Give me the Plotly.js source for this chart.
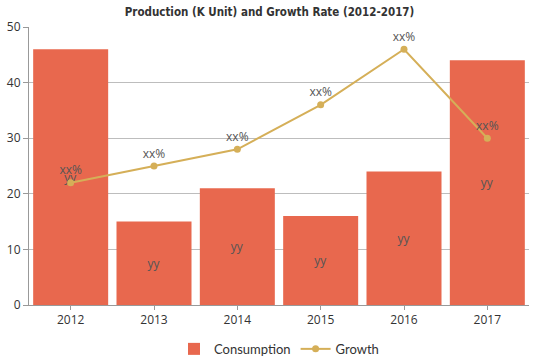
<!DOCTYPE html>
<html><head><meta charset="utf-8">
<script src="https://cdn.plot.ly/plotly-3.0.1.min.js"></script>
<style>html,body{margin:0;padding:0;background:#fff;}#chart{width:539px;height:359px;}</style>
</head><body><div id="chart"></div>
<script>
var years = ['2012','2013','2014','2015','2016','2017'];
var consumption = [46, 15, 21, 16, 24, 44];
var growth = [22, 25, 28, 36, 46, 30];
var barLabels = ['yy','yy','yy','yy','yy','yy'];
var growthLabels = ['xx%','xx%','xx%','xx%','xx%','xx%'];

var traces = [
  {type:'bar', name:'Consumption', x:years, y:consumption, text:barLabels,
   textposition:'inside', insidetextanchor:'middle', constraintext:'none',
   textfont:{family:'Open Sans, DejaVu Sans, sans-serif', size:12, color:'#555'},
   marker:{color:'#E8684E'}, hoverinfo:'none'},
  {type:'scatter', mode:'lines+markers+text', name:'Growth', x:years, y:growth,
   text:growthLabels, textposition:'top center',
   textfont:{family:'Open Sans, DejaVu Sans, sans-serif', size:12, color:'#555'},
   line:{color:'#D5AF58', width:2}, marker:{color:'#D5AF58', size:7}, hoverinfo:'none'}
];
var layout = {
  width:539, height:359,
  margin:{l:29, r:10, t:27, b:54, autoexpand:false},
  paper_bgcolor:'#fff', plot_bgcolor:'#fff',
  title:{text:'<b>Production (K Unit) and Growth Rate (2012-2017)</b>', x:0.5, xanchor:'center', y:0.968, yanchor:'middle',
    font:{family:'DejaVu Sans Condensed, DejaVu Sans, sans-serif', size:11.5, color:'#333'}},
  bargap:0.1,
  showlegend:true,
  legend:{orientation:'h', x:0.5, xanchor:'center', y:-0.158, yanchor:'middle',
    font:{family:'Lato, sans-serif', size:13, color:'#333'}, itemwidth:30, traceorder:'normal'},
  xaxis:{type:'category', showline:true, linecolor:'#999', linewidth:1, ticks:'outside', ticklen:4, tickcolor:'#999',
    tickfont:{family:'Open Sans, sans-serif', size:12, color:'#333'}, showgrid:false, fixedrange:true},
  yaxis:{range:[0,50], dtick:10, showline:true, linecolor:'#999', linewidth:1, ticks:'outside', ticklen:5, tickcolor:'#999',
    gridcolor:'#bdbdbd', gridwidth:1, zeroline:false,
    tickfont:{family:'Open Sans, sans-serif', size:12, color:'#333'}, fixedrange:true}
};
Plotly.newPlot('chart', traces, layout, {displayModeBar:false, staticPlot:true});
</script></body></html>
